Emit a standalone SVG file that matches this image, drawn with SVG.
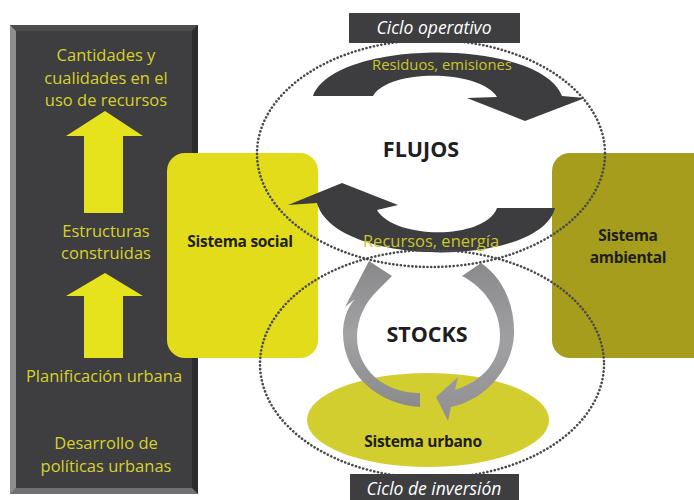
<svg xmlns="http://www.w3.org/2000/svg" width="694" height="500" viewBox="0 0 694 500">
<defs>
<linearGradient id="gL" x1="0" y1="1" x2="0" y2="0">
  <stop offset="0" stop-color="#8a8a8c"/>
  <stop offset="0.5" stop-color="#a2a2a4"/>
  <stop offset="1" stop-color="#88888a"/>
</linearGradient>
<linearGradient id="gR" x1="0" y1="0" x2="0" y2="1">
  <stop offset="0" stop-color="#8a8a8c"/>
  <stop offset="0.5" stop-color="#a0a0a2"/>
  <stop offset="1" stop-color="#909092"/>
</linearGradient>
</defs>
<style>
.pt{font-family:"Open Sans","Liberation Sans",sans-serif;font-size:16.5px;fill:#d6d22c;text-anchor:middle}
.bt{font-family:"Open Sans","Liberation Sans",sans-serif;font-weight:bold;font-size:15.5px;fill:#1e1e1a;text-anchor:middle;letter-spacing:-0.3px}
.big{font-family:"Open Sans","Liberation Sans",sans-serif;font-weight:bold;font-size:21.5px;fill:#1e1e1e;text-anchor:middle}
.cy{font-family:"Open Sans","Liberation Sans",sans-serif;font-style:italic;font-size:17.5px;fill:#ffffff;text-anchor:middle}
.al{font-family:"Open Sans","Liberation Sans",sans-serif;fill:#c9c52c;text-anchor:middle}
.dot{fill:none;stroke:#4a4a4c;stroke-width:2.6;stroke-linecap:round;stroke-dasharray:0.1 3.7}
.dark{fill:#3d3d3f}
.yarr{fill:#e6e21c}
</style>
<rect width="694" height="500" fill="#ffffff"/>

<g id="panel-izquierdo">
  <rect x="10" y="25" width="188" height="469" fill="#3e3e40"/>
  <polygon points="10,25 198,25 192,31 16,31" fill="#4c4c4e"/>
  <polygon points="198,25 198,494 192,488 192,31" fill="#2c2c2e"/>
  <polygon points="10,494 198,494 192,488 16,488" fill="#707072"/>
  <polygon points="10,25 16,31 16,488 10,494" fill="#8e8e90"/>
  <text class="pt" x="106" y="61">Cantidades y</text>
  <text class="pt" x="106" y="84">cualidades en el</text>
  <text class="pt" x="106" y="106">uso de recursos</text>
  <text class="pt" x="106" y="237">Estructuras</text>
  <text class="pt" x="106" y="259">construidas</text>
  <text class="pt" x="104" y="382">Planificación urbana</text>
  <text class="pt" x="106" y="449">Desarrollo de</text>
  <text class="pt" x="106" y="472">políticas urbanas</text>
</g>

<g id="sistema-social">
  <rect x="167" y="153" width="151" height="205" rx="18" fill="#e2dc1b"/>
  <text class="bt" x="240" y="247">Sistema social</text>
</g>

<g id="sistema-ambiental">
  <rect x="552" y="153" width="160" height="205" rx="18" fill="#a59d1b"/>
  <text class="bt" x="628" y="241">Sistema</text>
  <text class="bt" x="628" y="263">ambiental</text>
</g>

<g id="sistema-urbano">
  <ellipse cx="428" cy="420" rx="121" ry="47" fill="#d3ce2f"/>
  <text class="bt" x="423" y="447">Sistema urbano</text>
</g>

<g id="connectors">
  <path class="yarr" d="M105,111 L143,136 L123,136 L123,213 L84,213 L84,136 L66,136 Z"/>
  <path class="yarr" d="M105,273 L143,296 L123,296 L123,358 L84,358 L84,296 L66,296 Z"/>
  <path class="dark" d="M313,96 C335,38 540,38 562,96 L585,98 L525,121 L467,98 L497,97 C480,70 390,68 373,96 Z"/>
  <path class="dark" d="M497,208 L555,208 C540,268 335,268 317,203 L288,205 L342,183 L398,205 L377,210 C395,240 485,240 497,208 Z"/>
  <path fill="url(#gL)" d="M420,407 C380,405 343,375 343,333 C343,320 347,308 355,299 L345,307 L369,261 L392,276 L379,289 C364,303 357,320 357,337 C357,370 385,393 420,393 Z"/>
  <path fill="url(#gR)" d="M481,263 C503,278 515,305 514,335 C513,362 492,398 451,407 L448,421 L436,397 L458,377 L455,390 C485,380 500,360 500,335 C500,310 485,288 462,276 Z"/>
</g>

<g id="ciclos">
  <ellipse class="dot" cx="431" cy="153.5" rx="174" ry="113.5"/>
  <ellipse class="dot" cx="432" cy="364" rx="172" ry="114"/>
</g>

<g id="etiquetas">
  <text class="al" x="442" y="70" font-size="14.8">Residuos, emisiones</text>
  <text class="al" x="431" y="247" font-size="16.5">Recursos, energía</text>
  <text class="big" x="421" y="157">FLUJOS</text>
  <text class="big" x="427" y="342">STOCKS</text>
</g>

<g id="ciclo-operativo">
  <rect x="349" y="13" width="171" height="30" fill="#3e3e40"/>
  <text class="cy" x="434" y="34">Ciclo operativo</text>
</g>

<g id="ciclo-inversion">
  <rect x="350" y="474" width="169" height="26" fill="#3e3e40"/>
  <text class="cy" x="434" y="495">Ciclo de inversión</text>
</g>
</svg>
